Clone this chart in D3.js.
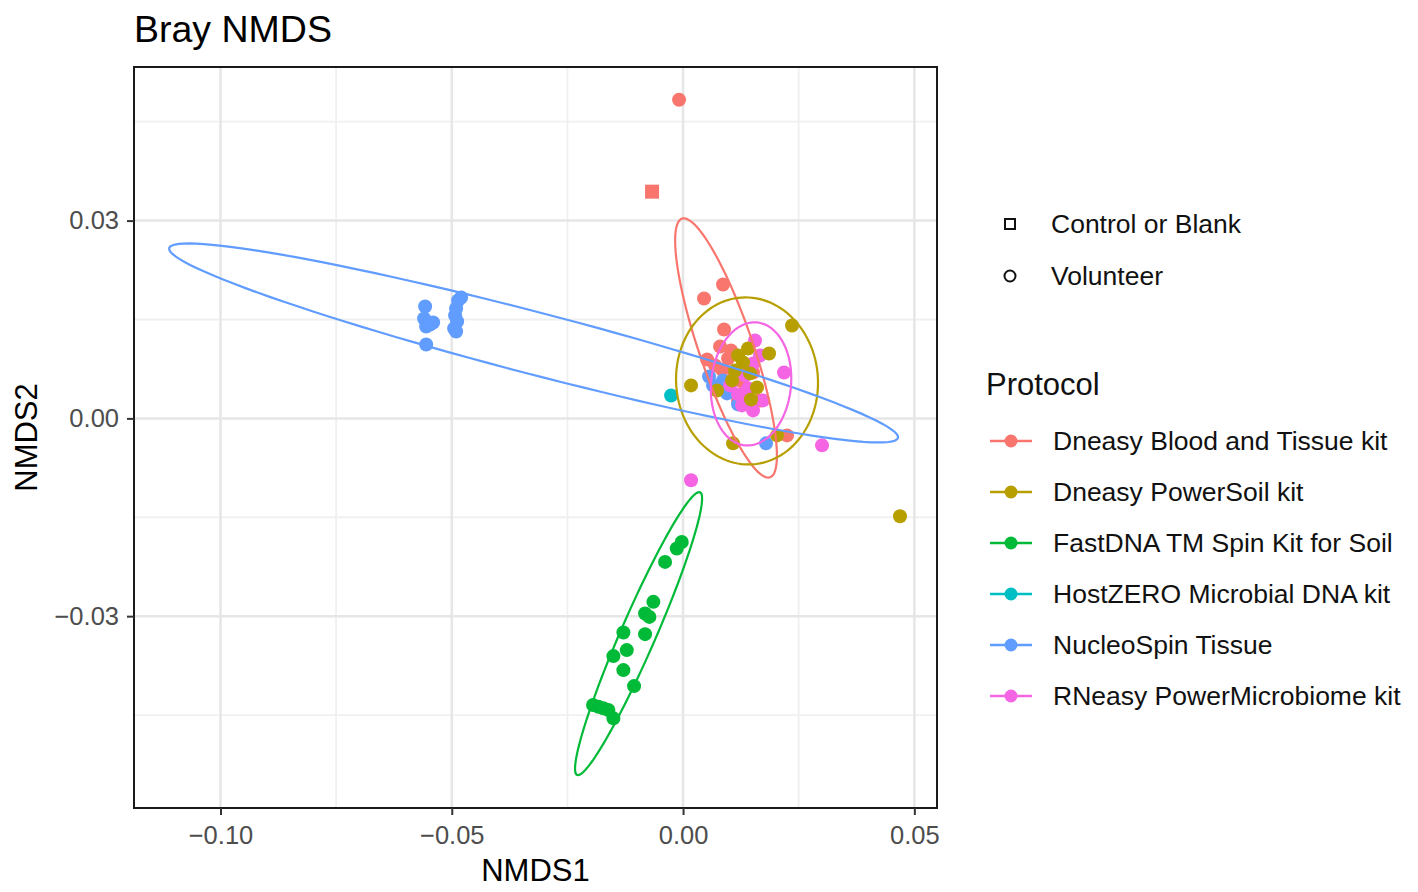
<!DOCTYPE html>
<html>
<head>
<meta charset="utf-8">
<script src="https://cdn.jsdelivr.net/npm/d3@7"></script>
<style>
  body { margin: 0; background: #fff; }
  text { font-family: "Liberation Sans", Arial, sans-serif; }
</style>
</head>
<body>
<svg id="chart" width="1418" height="892"></svg>
<script>
// protocols, in legend order, with the ggplot hue palette
const protocols = [
  'Dneasy Blood and Tissue kit',
  'Dneasy PowerSoil kit',
  'FastDNA TM Spin Kit for Soil',
  'HostZERO Microbial DNA kit',
  'NucleoSpin Tissue',
  'RNeasy PowerMicrobiome kit'
]
const protocolColours = ['#F8766D', '#B79F00', '#00BA38', '#00BFC4', '#619CFF', '#F564E3']

// volunteer samples, [NMDS1, NMDS2]
const bloodTissuePts = [
  [0.00864, 0.02030], [0.00454, 0.01818], [0.00886, 0.01348], [0.00800, 0.01091],
  [0.01037, 0.01030], [0.00519, 0.00894], [0.00843, 0.00742], [0.00973, 0.00909],
  [0.01102, 0.00697], [0.01275, 0.00561], [0.01362, 0.00379], [0.01189, 0.00273],
  [0.01513, 0.00697], [0.02248, -0.00258], [0.00692, 0.00803], [0.01664, 0.00273],
  [-0.00086, 0.04833]
]
const nucleoSpinPts = [
  [-0.05576, 0.01697], [-0.05598, 0.01515], [-0.05511, 0.01455], [-0.05403, 0.01455],
  [-0.05554, 0.01394], [-0.05468, 0.01424], [-0.05554, 0.01121],
  [-0.04798, 0.01833], [-0.04863, 0.01788], [-0.04906, 0.01667], [-0.04928, 0.01561],
  [-0.04884, 0.01470], [-0.04949, 0.01364], [-0.04906, 0.01318],
  [0.00562, 0.00636], [0.00756, 0.00439], [0.00951, 0.00379], [0.01189, 0.00212],
  [0.01794, -0.00379], [0.00864, 0.00576], [0.00648, 0.00500]
]
const microbiomePts = [
  [0.01556, 0.01182], [0.02183, 0.00697], [0.01513, 0.00833], [0.01729, 0.00273],
  [0.01513, 0.00121], [0.03004, -0.00409], [0.01189, 0.00364], [0.00173, -0.00939],
  [0.01340, 0.00652], [0.01016, 0.00500], [0.01405, 0.00455], [0.01275, 0.00197],
  [0.01664, 0.00955]
]
const powerSoilPts = [
  [0.02356, 0.01409], [0.01859, 0.00985], [0.00173, 0.00500], [0.01405, 0.01061],
  [0.01189, 0.00955], [0.01124, 0.00727], [0.00735, 0.00424], [0.01448, 0.00682],
  [0.01599, 0.00470], [0.01470, 0.00288], [0.01081, -0.00379], [0.02032, -0.00258],
  [0.01059, 0.00576], [0.01297, 0.00848], [0.04690, -0.01485]
]
const fastDnaPts = [
  [-0.00028, -0.01874], [-0.00136, -0.01974], [-0.00389, -0.02177], [-0.00642, -0.02783],
  [-0.00821, -0.02959], [-0.00728, -0.03011], [-0.01290, -0.03247], [-0.00821, -0.03273],
  [-0.01217, -0.03515], [-0.01506, -0.03606], [-0.01290, -0.03818], [-0.01059, -0.04061],
  [-0.01945, -0.04348], [-0.01831, -0.04374], [-0.01723, -0.04398], [-0.01614, -0.04424],
  [-0.01506, -0.04550]
]
const hostZeroPts = [[-0.00259, 0.00348]]

// control / blank samples, [NMDS1, NMDS2, protocol index]
const controlPts = [[-0.00670, 0.03439, 0]]

// 95% ellipses per protocol: centre and the two semi-axis vectors (data units)
const ellipseCentre = [[0.00929, 0.01068], [0.01383, 0.00568], [-0.00962, -0.03265], null, [-0.03231, 0.01144], [0.01470, 0.00523]]
const ellipseAxisA = [[0.00951, -0.01962], [0.00119, -0.01265], [0.01329, 0.02144], null, [0.07878, -0.01439], [0.00130, 0.00932]]
const ellipseAxisB = [[0.00553, 0.00132], [0.01530, 0.00071], [0.00347, -0.00106], null, [-0.00169, -0.00455], [0.00860, -0.00059]]

const xTicks = [-0.10, -0.05, 0.00, 0.05]
const yTicks = [-0.03, 0.00, 0.03]
const xMinorTicks = [-0.075, -0.025, 0.025]
const yMinorTicks = [-0.045, -0.015, 0.015, 0.045]
const shapeLabels = ['Control or Blank', 'Volunteer']

const panel = { left: 134, right: 937, top: 67, bottom: 808 }

const x = d3.scaleLinear().domain([-0.1187, 0.0549]).range([panel.left, panel.right])
const y = d3.scaleLinear().domain([-0.0591, 0.0533]).range([panel.bottom, panel.top])
const colour = d3.scaleOrdinal().domain(d3.range(protocols.length)).range(protocolColours)

const svg = d3.select('#chart')

// title
svg.append('text')
  .attr('x', panel.left).attr('y', 42)
  .attr('font-size', 37.5).attr('fill', '#000')
  .text('Bray NMDS')

// grid
const grid = svg.append('g')
grid.selectAll('.xminor').data(xMinorTicks).enter().append('line')
  .attr('x1', d => x(d)).attr('x2', d => x(d))
  .attr('y1', panel.top).attr('y2', panel.bottom)
  .attr('stroke', '#F0F0F0').attr('stroke-width', 1.8)
grid.selectAll('.yminor').data(yMinorTicks).enter().append('line')
  .attr('y1', d => y(d)).attr('y2', d => y(d))
  .attr('x1', panel.left).attr('x2', panel.right)
  .attr('stroke', '#F0F0F0').attr('stroke-width', 1.8)
grid.selectAll('.xmajor').data(xTicks).enter().append('line')
  .attr('x1', d => x(d)).attr('x2', d => x(d))
  .attr('y1', panel.top).attr('y2', panel.bottom)
  .attr('stroke', '#E6E6E6').attr('stroke-width', 2.5)
grid.selectAll('.ymajor').data(yTicks).enter().append('line')
  .attr('y1', d => y(d)).attr('y2', d => y(d))
  .attr('x1', panel.left).attr('x2', panel.right)
  .attr('stroke', '#E6E6E6').attr('stroke-width', 2.5)

// points
const fmtPts = (pts, i) => pts.map(p => ({ x: p[0], y: p[1], g: i }))
const volunteers = [].concat(
  fmtPts(bloodTissuePts, 0),
  fmtPts(nucleoSpinPts, 4),
  fmtPts(microbiomePts, 5),
  fmtPts(powerSoilPts, 1),
  fmtPts(fastDnaPts, 2),
  fmtPts(hostZeroPts, 3)
)

svg.append('g').selectAll('circle')
  .data(volunteers)
  .enter().append('circle')
  .attr('cx', d => x(d.x))
  .attr('cy', d => y(d.y))
  .attr('r', 7)
  .attr('fill', d => colour(d.g))

const sq = 14
svg.append('g').selectAll('rect')
  .data(controlPts)
  .enter().append('rect')
  .attr('x', d => x(d[0]) - sq / 2)
  .attr('y', d => y(d[1]) - sq / 2)
  .attr('width', sq).attr('height', sq)
  .attr('fill', d => colour(d[2]))

// ellipses
const angles = d3.range(0, 2 * Math.PI, Math.PI / 60)
const ellipseLine = d3.line().curve(d3.curveLinearClosed)
const ellipses = protocols.map((p, i) => ({ i: i, c: ellipseCentre[i], a: ellipseAxisA[i], b: ellipseAxisB[i] }))
  .filter(e => e.c)

svg.append('g').selectAll('path')
  .data(ellipses)
  .enter().append('path')
  .attr('d', e => ellipseLine(angles.map(t => [
    x(e.c[0] + Math.cos(t) * e.a[0] + Math.sin(t) * e.b[0]),
    y(e.c[1] + Math.cos(t) * e.a[1] + Math.sin(t) * e.b[1])
  ])))
  .attr('fill', 'none')
  .attr('stroke', e => colour(e.i))
  .attr('stroke-width', 2.2)

// panel border
svg.append('rect')
  .attr('x', panel.left).attr('y', panel.top)
  .attr('width', panel.right - panel.left).attr('height', panel.bottom - panel.top)
  .attr('fill', 'none').attr('stroke', '#1A1A1A').attr('stroke-width', 2)

// axes
const fmt = d3.format('.2f')
const xAxis = svg.append('g')
  .attr('transform', 'translate(0,' + panel.bottom + ')')
  .call(d3.axisBottom(x).tickValues(xTicks).tickSize(7).tickPadding(11).tickFormat(fmt))
const yAxis = svg.append('g')
  .attr('transform', 'translate(' + panel.left + ',0)')
  .call(d3.axisLeft(y).tickValues(yTicks).tickSize(7).tickPadding(8).tickFormat(fmt))
;[xAxis, yAxis].forEach(function (ax) {
  ax.select('.domain').remove()
  ax.selectAll('.tick line').attr('stroke', '#333').attr('stroke-width', 2)
  ax.selectAll('.tick text')
    .attr('font-family', '"Liberation Sans", Arial, sans-serif')
    .attr('font-size', 25.5).attr('fill', '#4D4D4D')
})

svg.append('text')
  .attr('x', (panel.left + panel.right) / 2).attr('y', 881)
  .attr('text-anchor', 'middle').attr('font-size', 31)
  .text('NMDS1')
svg.append('text')
  .attr('transform', 'translate(37,' + (panel.top + panel.bottom) / 2 + ') rotate(-90)')
  .attr('text-anchor', 'middle').attr('font-size', 31)
  .text('NMDS2')

// shape legend
const shapeRows = svg.append('g').selectAll('g')
  .data(shapeLabels)
  .enter().append('g')
  .attr('transform', (d, i) => 'translate(1010,' + (224 + i * 52) + ')')
shapeRows.filter((d, i) => i === 0).append('rect')
  .attr('x', -5).attr('y', -5).attr('width', 10).attr('height', 10)
  .attr('fill', 'none').attr('stroke', '#111').attr('stroke-width', 2)
shapeRows.filter((d, i) => i === 1).append('circle')
  .attr('r', 5.5)
  .attr('fill', 'none').attr('stroke', '#111').attr('stroke-width', 2)
shapeRows.append('text')
  .attr('x', 41).attr('dy', '0.35em')
  .attr('font-family', 'Lato, "Open Sans", sans-serif')
  .attr('font-size', 26.5).attr('fill', '#111')
  .text(d => d)

// protocol legend
svg.append('text')
  .attr('x', 986).attr('y', 395)
  .attr('font-size', 31).attr('fill', '#111')
  .text('Protocol')

const rows = svg.append('g').selectAll('g')
  .data(protocols)
  .enter().append('g')
  .attr('transform', (d, i) => 'translate(0,' + (441 + i * 51) + ')')
rows.append('line')
  .attr('x1', 990).attr('x2', 1032)
  .attr('stroke', (d, i) => colour(i)).attr('stroke-width', 2.5)
rows.append('circle')
  .attr('cx', 1011).attr('r', 6.5)
  .attr('fill', (d, i) => colour(i))
rows.append('text')
  .attr('x', 1053).attr('dy', '0.35em')
  .attr('font-size', 26.5).attr('fill', '#111')
  .text(d => d)
</script>
</body>
</html>
